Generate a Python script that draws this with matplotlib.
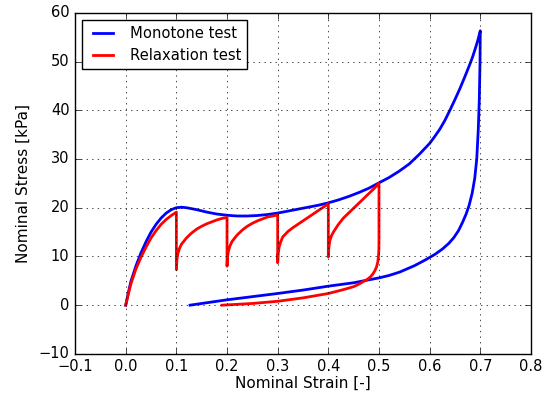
import numpy as np
import matplotlib
matplotlib.use('Agg')
import matplotlib.pyplot as plt

# Monotone test: loading then unloading (strain [-], stress [kPa])
mono_strain = [0.0, 0.005, 0.01, 0.02, 0.03, 0.04, 0.05, 0.06, 0.07, 0.08, 0.09,
               0.10, 0.11, 0.12, 0.14, 0.16, 0.18, 0.20, 0.22, 0.24, 0.26, 0.28,
               0.30, 0.32, 0.34, 0.36, 0.38, 0.40, 0.42, 0.44, 0.46, 0.48, 0.50,
               0.52, 0.54, 0.56, 0.58, 0.60, 0.61, 0.62, 0.63, 0.64, 0.65, 0.66,
               0.67, 0.68, 0.685, 0.69, 0.695, 0.70,
               0.6995, 0.698, 0.696, 0.693, 0.689, 0.684, 0.678, 0.672, 0.665,
               0.657, 0.648, 0.638, 0.625, 0.61, 0.59, 0.57, 0.541, 0.52, 0.50,
               0.45, 0.40, 0.35, 0.30, 0.25, 0.20, 0.15, 0.127]
mono_stress = [0.0, 2.5, 4.8, 8.0, 10.7, 13.0, 15.0, 16.6, 17.9, 18.9, 19.6,
               20.0, 20.1, 20.0, 19.6, 19.1, 18.7, 18.45, 18.3, 18.3, 18.4, 18.6,
               18.9, 19.3, 19.7, 20.1, 20.5, 21.0, 21.6, 22.3, 23.1, 24.0, 25.1,
               26.2, 27.5, 29.0, 31.0, 33.2, 34.6, 36.1, 37.9, 40.0, 42.2, 44.5,
               47.0, 49.6, 51.0, 52.6, 54.3, 56.3,
               50.0, 42.0, 36.0, 30.0, 26.0, 23.0, 20.5, 18.7, 17.0,
               15.3, 13.9, 12.7, 11.5, 10.4, 9.2, 8.1, 6.8, 6.1, 5.6,
               4.6, 3.9, 3.1, 2.4, 1.75, 1.1, 0.35, 0.0]

# Relaxation test: step loading with relaxation holds, then unloading
relax_strain = [0.0, 0.005, 0.01, 0.02, 0.03, 0.04, 0.05, 0.06, 0.07, 0.08, 0.09, 0.10,
                0.100, 0.101, 0.103, 0.106, 0.11, 0.12, 0.13, 0.14, 0.15, 0.16, 0.17, 0.18, 0.19, 0.20,
                0.200, 0.201, 0.203, 0.206, 0.21, 0.22, 0.23, 0.24, 0.25, 0.26, 0.27, 0.28, 0.29, 0.30,
                0.300, 0.301, 0.303, 0.306, 0.31, 0.32, 0.33, 0.34, 0.35, 0.36, 0.37, 0.38, 0.39, 0.40,
                0.400, 0.401, 0.403, 0.406, 0.41, 0.42, 0.43, 0.44, 0.45, 0.46, 0.47, 0.48, 0.49, 0.50,
                0.500, 0.4998, 0.499, 0.4975, 0.495, 0.492, 0.488, 0.483, 0.477, 0.47, 0.46, 0.45,
                0.43, 0.40, 0.35, 0.30, 0.25, 0.19]
relax_stress = [0.0, 2.2, 4.3, 7.4, 9.8, 11.9, 13.8, 15.3, 16.6, 17.6, 18.4, 19.1,
                7.3, 9.3, 10.6, 11.6, 12.5, 13.8, 14.8, 15.6, 16.2, 16.7, 17.1, 17.5, 17.8, 18.0,
                8.0, 9.9, 11.2, 12.2, 13.1, 14.4, 15.4, 16.2, 16.8, 17.3, 17.7, 18.1, 18.3, 18.5,
                8.7, 10.6, 12.0, 13.0, 14.0, 15.1, 15.9, 16.6, 17.3, 18.0, 18.7, 19.4, 20.1, 20.8,
                9.9, 11.8, 13.2, 14.2, 15.0, 16.6, 17.9, 18.9, 19.9, 20.9, 21.9, 22.9, 23.9, 25.0,
                13.4, 11.5, 10.0, 8.8, 7.8, 7.1, 6.4, 5.8, 5.3, 4.9, 4.3, 3.8,
                3.2, 2.4, 1.5, 0.8, 0.35, 0.0]

plt.style.use('classic')
plt.rcParams['figure.facecolor'] = 'white'
plt.rcParams['savefig.facecolor'] = 'white'
plt.rcParams['xtick.labelsize'] = 10.5
plt.rcParams['ytick.labelsize'] = 10.5

fig = plt.figure(figsize=(5.44, 3.99), dpi=100)
ax = fig.add_axes([0.138, 0.113, 0.838, 0.855])

ax.plot(mono_strain, mono_stress, color='b', lw=2, label='Monotone test')
ax.plot(relax_strain, relax_stress, color='r', lw=2, label='Relaxation test')

ax.set_xlim(-0.1, 0.8)
ax.set_ylim(-10, 60)
ax.set_xticks(np.arange(-0.1, 0.81, 0.1))
ax.set_xlabel('Nominal Strain [-]', fontsize=11, labelpad=1)
ax.set_ylabel('Nominal Stress [kPa]', fontsize=11, labelpad=6)
ax.grid(True)
ax.legend(loc='upper left', fontsize=10.6)

fig.savefig('out.png', dpi=100)
